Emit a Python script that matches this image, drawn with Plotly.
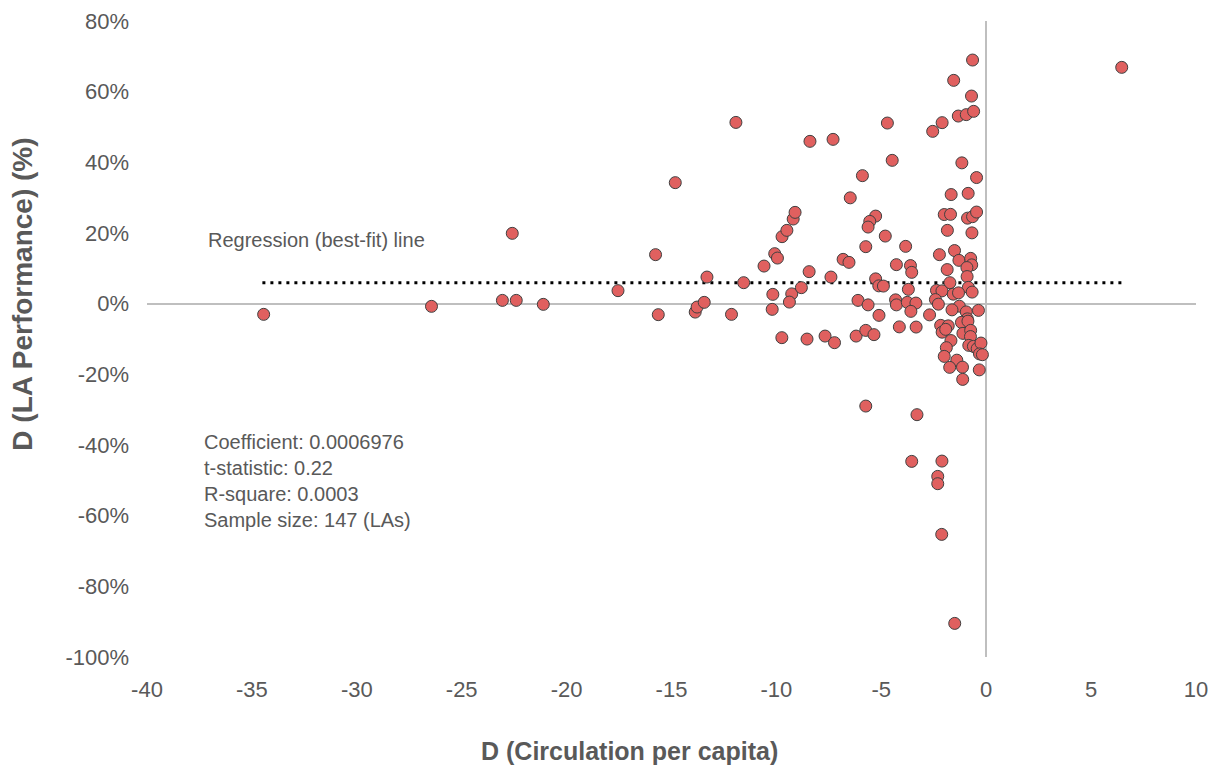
import plotly.graph_objects as go

# Change in circulation per capita (x) and change in LA performance in % (y)
circulation_change = [
    -34.44, -26.44, -23.06, -22.59, -22.40, -21.11, -17.55, -15.76, -15.63, -14.82,
    -13.87, -13.78, -13.44, -13.31, -12.14, -11.93, -11.56, -10.59, -10.08, -9.95,
    -9.73, -9.50, -9.20, -9.11, -8.40, -7.30, -8.44, -7.40, -6.82, -6.54,
    -5.74, -3.84, -10.17, -9.27, -9.38, -8.81, -10.20, -9.74, -8.54, -7.68,
    -7.23, -6.20, -5.74, -5.35, -6.11, -5.63, -5.11, -5.27, -5.12, -4.90,
    -4.32, -4.28, -4.14, -4.71, -4.48, -5.90, -6.48, -5.27, -5.55, -5.63,
    -4.81, -4.28, -3.61, -3.55, -3.71, -3.76, -3.35, -3.59, -2.70, -3.34,
    -0.65, -1.55, -0.70, -1.33, -0.95, -0.60, -2.10, -2.55, -1.16, -0.46,
    -1.67, -0.86, -2.00, -1.70, -0.89, -0.65, -0.46, -1.85, -0.68, -2.23,
    -1.51, -1.30, -0.74, -0.69, -0.92, -1.86, -0.91, -1.73, -0.85, -0.67,
    -2.37, -2.11, -1.57, -1.32, -2.42, -2.28, -1.28, -1.63, -0.95, -0.37,
    -0.90, -2.17, -1.81, -2.10, -1.93, -1.18, -0.87, -1.11, -0.74, -0.75,
    -1.68, -1.90, -0.83, -0.61, -0.43, -0.25, -0.32, -0.18, -2.00, -1.40,
    -1.74, -1.13, -0.33, -1.12, -5.74, -3.30, -3.55, -2.11, -2.31, -2.31,
    -2.12, -1.50, 6.46,
]
performance_change = [
    -3.03, -0.76, 0.93, 19.90, 0.93, -0.20, 3.68, 13.87, -3.11, 34.25,
    -2.38, -0.96, 0.37, 7.53, -3.03, 51.30, 5.94, 10.64, 14.15, 12.91,
    18.96, 20.75, 23.95, 25.84, 45.94, 46.50, 9.06, 7.53, 12.54, 11.69,
    16.13, 16.22, 2.63, 2.77, 0.45, 4.53, -1.61, -9.62, -10.02, -9.17,
    -11.04, -9.17, -7.56, -8.77, 0.93, -0.34, -3.31, 7.02, 5.04, 4.98,
    1.08, -0.34, -6.57, 51.12, 40.56, 36.23, 29.95, 24.79, 23.29, 21.68,
    19.13, 11.04, 10.78, 8.86, 4.05, 0.37, 0.17, -2.18, -3.17, -6.62,
    68.95, 63.20, 58.76, 53.10, 53.50, 54.43, 51.23, 48.77, 39.85, 35.69,
    30.88, 31.22, 25.22, 25.28, 24.20, 24.62, 25.93, 20.75, 20.04, 13.87,
    15.03, 12.26, 12.82, 10.98, 10.22, 9.65, 7.67, 5.94, 4.61, 3.28,
    3.76, 3.62, 2.69, 3.06, 1.16, -0.14, -0.71, -1.75, -2.32, -1.90,
    -4.30, -6.14, -6.28, -8.07, -7.27, -5.29, -4.95, -8.41, -7.56, -9.31,
    -10.44, -12.45, -11.80, -12.09, -12.74, -11.15, -14.21, -14.44, -14.92, -15.99,
    -18.03, -17.97, -18.74, -21.43, -28.98, -31.42, -44.64, -44.55, -48.88, -50.95,
    -65.30, -90.49, 66.88,
]

# Regression (best-fit) line end points
regression_x = [-34.5, 6.5]
regression_y = [5.9, 5.9]

x_ticks = [-40, -35, -30, -25, -20, -15, -10, -5, 0, 5, 10]
x_tick_labels = ["-40", "-35", "-30", "-25", "-20", "-15", "-10", "-5", "0", "5", "10"]
y_ticks = [80, 60, 40, 20, 0, -20, -40, -60, -80, -100]
y_tick_labels = ["80%", "60%", "40%", "20%", "0%", "-20%", "-40%", "-60%", "-80%", "-100%"]

FONT = "Liberation Sans, Arial, sans-serif"
GREY = "#595959"

fig = go.Figure()
fig.add_trace(go.Scatter(
    x=regression_x, y=regression_y, mode="lines",
    line=dict(color="black", width=3, dash="3px,5px"),
    hoverinfo="skip", showlegend=False,
))
fig.add_trace(go.Scatter(
    x=circulation_change, y=performance_change, mode="markers",
    marker=dict(size=12, color="#E0605F", line=dict(color="#404040", width=1)),
    showlegend=False,
))

fig.add_annotation(x=-37.2, y=17.9, xref="x", yref="y", text="Regression (best-fit) line",
                   showarrow=False, xanchor="left", yanchor="middle",
                   font=dict(family=FONT, size=20, color=GREY))
fig.add_annotation(x=-37.4, y=-50.2, xref="x", yref="y",
                   text="Coefficient: 0.0006976<br>t-statistic: 0.22<br>R-square: 0.0003<br>Sample size: 147 (LAs)",
                   showarrow=False, xanchor="left", yanchor="middle", align="left",
                   font=dict(family=FONT, size=20, color=GREY))
fig.add_annotation(x=0.4595, y=-0.148, xref="paper", yref="paper",
                   text="<b>D (Circulation per capita)</b>", showarrow=False,
                   xanchor="center", yanchor="middle",
                   font=dict(family=FONT, size=25, color=GREY))
fig.add_annotation(x=-0.119, y=0.57, xref="paper", yref="paper",
                   text="<b>D (LA Performance) (%)</b>", showarrow=False, textangle=-90,
                   xanchor="center", yanchor="middle",
                   font=dict(family=FONT, size=28, color=GREY))

fig.update_layout(
    width=1205, height=761,
    margin=dict(l=139, r=17, t=13, b=112),
    paper_bgcolor="white", plot_bgcolor="white",
    font=dict(family=FONT, color=GREY, size=22),
    xaxis=dict(range=[-40, 10], tickvals=x_ticks, ticktext=x_tick_labels,
               showgrid=False, showline=False, automargin=False,
               zeroline=True, zerolinecolor="#BFBFBF", zerolinewidth=1.5,
               ticks="", ticklabelstandoff=17, tickfont=dict(size=22, color=GREY)),
    yaxis=dict(range=[-100, 80], tickvals=y_ticks, ticktext=y_tick_labels,
               showgrid=False, showline=False, automargin=False,
               zeroline=True, zerolinecolor="#BFBFBF", zerolinewidth=1.5,
               ticks="", ticklabelstandoff=17, tickfont=dict(size=22, color=GREY)),
)

fig.write_html("out.html")
